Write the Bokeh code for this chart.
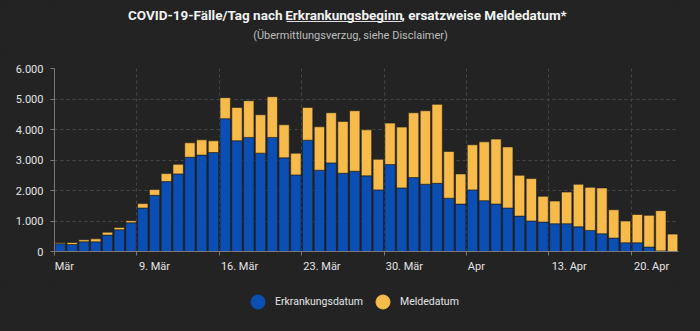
import pandas as pd
from bokeh.plotting import figure
from bokeh.models import (ColumnDataSource, Range1d, FixedTicker, Label, DatetimeAxis,
                          Legend, LegendItem, BoxAnnotation)
from bokeh.layouts import column
from bokeh.embed import file_html
from bokeh.resources import INLINE

# ---------------- data ----------------
start_date = "2020-03-02"
end_date = "2020-04-24"
erkrankungsdatum = [255, 230, 318, 318, 537, 713, 943, 1425, 1842, 2292, 2545, 3090, 3160, 3245,
                    4355, 3630, 3740, 3225, 3740, 3070, 2510, 3650, 2665, 2905, 2565, 2630, 2480,
                    2020, 2850, 2085, 2425, 2205, 2235, 1745, 1555, 2020, 1665, 1555, 1425, 1160,
                    1000, 965, 910, 910, 810, 690, 580, 440, 285, 285, 145, 20, 0]
meldedatum = [35, 65, 67, 97, 98, 77, 67, 145, 188, 263, 315, 475, 500, 385,
              690, 1095, 1205, 1260, 1335, 1085, 715, 1075, 1425, 1645, 1700, 1985, 1510,
              1005, 1360, 1995, 2125, 2410, 2590, 1535, 990, 1480, 1930, 2130, 2005, 1340,
              1390, 845, 745, 1040, 1395, 1415, 1505, 930, 715, 930, 1040, 1320, 570]
series_names = ["Erkrankungsdatum", "Meldedatum"]
y_ticks = [0, 1000, 2000, 3000, 4000, 5000, 6000]
y_tick_labels = ["0", "1.000", "2.000", "3.000", "4.000", "5.000", "6.000"]
x_tick_dates = ["2020-03-02", "2020-03-09", "2020-03-16", "2020-03-23",
                "2020-03-30", "2020-04-06", "2020-04-13", "2020-04-20"]
x_tick_labels = ["Mär", "9. Mär", "16. Mär", "23. Mär", "30. Mär", "Apr", "13. Apr", "20. Apr"]

title_left = "COVID-19-Fälle/Tag nach"
title_link = "Erkrankungsbeginn"
title_right = ", ersatzweise Meldedatum*"
subtitle = "(Übermittlungsverzug, siehe Disclaimer)"

# ---------------- style ----------------
BG = "#232323"
BLUE = "#0b4fb4"
YELLOW = "#f6bb4b"
GRID = "#474747"
AXIS = "#7a7a7a"
TXT = "#e4e4e4"
FONT_NAME = "Roboto"
LEFT, RIGHT = 54, 22          # frame borders shared by all rows
FRAME_W = 700 - LEFT - RIGHT

DAY_MS = 86400000
dates = pd.date_range(start_date, periods=len(erkrankungsdatum), freq="D") + pd.Timedelta(hours=12)
src = ColumnDataSource(dict(date=dates, erk=erkrankungsdatum, mel=meldedatum))
n_days = (pd.Timestamp(end_date) - pd.Timestamp(start_date)).days
px_per_day = FRAME_W / n_days


def blank_fig(h, xr, yr):
    f = figure(width=700, height=h, x_range=xr, y_range=yr,
               x_axis_location=None, y_axis_location=None,
               toolbar_location=None, output_backend="svg",
               min_border_left=LEFT, min_border_right=RIGHT, min_border_top=0, min_border_bottom=0,
               background_fill_color=BG, border_fill_color=BG, outline_line_color=None)
    f.grid.visible = False
    return f


# ---------------- title figure (x in page pixels) ----------------
tf = blank_fig(50, Range1d(LEFT, 700 - RIGHT), Range1d(0, 50))
tkw = dict(text_font=FONT_NAME, text_font_size="13.5px", text_color="#f2f2f2",
           text_baseline="alphabetic", text_font_style="bold")
tf.add_layout(Label(x=282, y=35.5, text=title_left, text_align="right", **tkw))
tf.add_layout(Label(x=343.5, y=35.5, text=title_link, text_align="center", **tkw))
tf.add_layout(Label(x=401, y=35.5, text=title_right, text_align="left", **tkw))
tf.add_layout(BoxAnnotation(left=286, right=401, bottom=28.6, top=29.6,
                            fill_color="#e0e0e0", fill_alpha=1, line_color=None))
tf.add_layout(Label(x=350, y=15, text=subtitle, text_align="center", text_baseline="alphabetic",
                    text_font=FONT_NAME, text_font_size="11px", text_color="#bdbdbd"))

# ---------------- main chart ----------------
p = figure(width=700, height=231, x_axis_type="datetime",
           x_range=Range1d(pd.Timestamp(start_date), pd.Timestamp(end_date)),
           y_range=Range1d(0, 6000),
           toolbar_location=None, output_backend="svg",
           min_border_left=LEFT, min_border_right=RIGHT, min_border_top=18, min_border_bottom=30,
           background_fill_color=BG, border_fill_color=BG, outline_line_color=None)

p.vbar_stack(["erk", "mel"], x="date", width=0.88 * DAY_MS, color=[BLUE, YELLOW],
             line_color="#1c1c1c", line_width=0.6, source=src)

# axis 1: line + tick marks at week starts
x_tick_ms = [pd.Timestamp(d).value // 10**6 for d in x_tick_dates]
p.xaxis.ticker = FixedTicker(ticks=x_tick_ms)
p.xaxis.major_label_overrides = {t: " " for t in x_tick_ms}
p.xaxis.major_label_text_font_size = "1px"
p.xaxis.major_label_standoff = 0
p.xaxis.minor_tick_line_color = None
p.xaxis.major_tick_in = 0
p.xaxis.major_tick_out = 4
p.xaxis.axis_line_color = AXIS
p.xaxis.major_tick_line_color = AXIS

# axis 2: labels placed to the right of each tick (left-aligned look)
label_pos = [t + (2 + 2.6 * len(l)) / px_per_day * DAY_MS for t, l in zip(x_tick_ms, x_tick_labels)]
lab_axis = DatetimeAxis(ticker=FixedTicker(ticks=label_pos),
                        major_label_overrides=dict(zip(label_pos, x_tick_labels)),
                        axis_line_color=None, major_tick_line_color=None,
                        major_tick_in=0, major_tick_out=0,
                        minor_tick_line_color=None, major_label_standoff=0,
                        major_label_text_color=TXT, major_label_text_font=FONT_NAME,
                        major_label_text_font_size="11px")
p.add_layout(lab_axis, "below")

p.yaxis.ticker = FixedTicker(ticks=y_ticks)
p.yaxis.major_label_overrides = dict(zip(y_ticks, y_tick_labels))
p.yaxis.minor_tick_line_color = None
p.yaxis.major_tick_in = 0
p.yaxis.major_tick_out = 4
p.yaxis.major_label_standoff = 7
p.yaxis.axis_line_color = AXIS
p.yaxis.major_tick_line_color = AXIS
p.yaxis.major_label_text_color = TXT
p.yaxis.major_label_text_font = FONT_NAME
p.yaxis.major_label_text_font_size = "11px"

p.xgrid.ticker = FixedTicker(ticks=x_tick_ms)
p.ygrid.ticker = FixedTicker(ticks=y_ticks)
p.grid.grid_line_color = GRID
p.grid.grid_line_dash = "3 3"
p.grid.grid_line_width = 1

# ---------------- legend figure ----------------
lf = blank_fig(50, Range1d(0, 1), Range1d(0, 1))
nan = float("nan")
r1 = lf.scatter(x=[nan], y=[nan], marker="circle", size=14, color=BLUE)
r2 = lf.scatter(x=[nan], y=[nan], marker="circle", size=14, color=YELLOW)
legend = Legend(items=[LegendItem(label=series_names[0], renderers=[r1]),
                       LegendItem(label=series_names[1], renderers=[r2])],
                orientation="horizontal", location=(186, 12),
                glyph_width=35, glyph_height=35, label_standoff=-4, spacing=2,
                margin=0, padding=0, background_fill_alpha=0, border_line_color=None,
                label_text_color=TXT, label_text_font=FONT_NAME, label_text_font_size="10.5px")
lf.add_layout(legend, "center")

layout = column(tf, p, lf, spacing=0, styles={"background-color": BG})
open("out.html", "w").write(file_html(layout, INLINE))
